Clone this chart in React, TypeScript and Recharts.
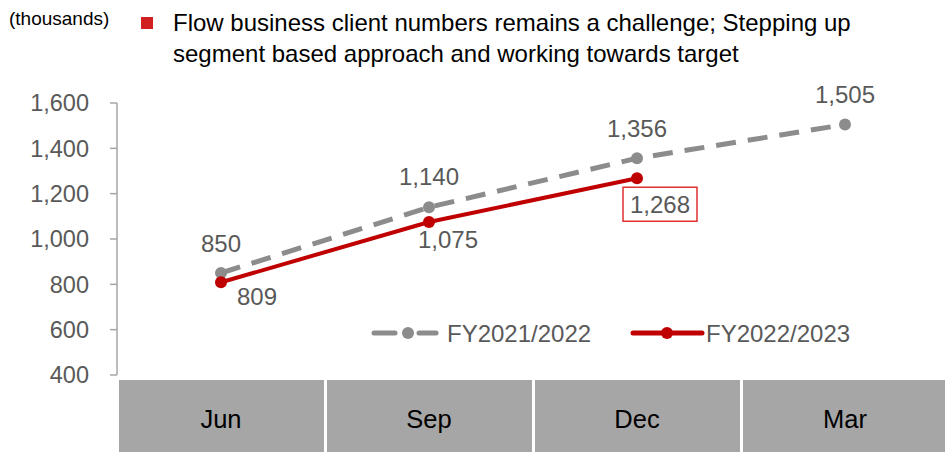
import React from "react";
import { LineChart, Line, XAxis, YAxis, LabelList } from "recharts";

const categories = ["Jun", "Sep", "Dec", "Mar"];
const fy2122 = [850, 1140, 1356, 1505];
const fy2223: (number | null)[] = [809, 1075, 1268, null];
const yTicks = [400, 600, 800, 1000, 1200, 1400, 1600];

const data = categories.map((c, i) => ({ name: c, a: fy2122[i], b: fy2223[i] }));

const GRAY = "#8C8C8C";
const RED = "#C00000";
const FONT = "'Liberation Sans', Arial, sans-serif";
const fmt = (v: number) => v.toLocaleString("en-US");

const labelOffsetsA = [
  [0, -30],
  [0, -31],
  [0, -30],
  [0, -30],
];
const labelOffsetsB = [
  [36, 14],
  [19, 17],
  [23, 26],
];

const XTick = (props: any) => {
  const { x, y, payload } = props;
  return (
    <g>
      <rect x={x - 102} y={y + 5} width={205} height={80} fill="#A6A6A6" />
      <text x={x} y={y + 44} textAnchor="middle" dominantBaseline="central" fontSize={25.5} fill="#000" fontFamily={FONT}>
        {payload.value}
      </text>
    </g>
  );
};

const LabelA = (props: any) => {
  const { x, y, value, index } = props;
  if (value == null) return null;
  const [dx, dy] = labelOffsetsA[index];
  return (
    <text x={x + dx} y={y + dy} textAnchor="middle" dominantBaseline="central" fontSize={24} fill="#595959" fontFamily={FONT}>
      {fmt(value)}
    </text>
  );
};

const LabelB = (props: any) => {
  const { x, y, value, index } = props;
  if (value == null) return null;
  const [dx, dy] = labelOffsetsB[index];
  const boxed = index === 2;
  return (
    <g>
      {boxed && (
        <rect x={x + dx - 37} y={y + dy - 17} width={74} height={34} fill="#fff" stroke="#E03030" strokeWidth={1.5} />
      )}
      <text x={x + dx} y={y + dy} textAnchor="middle" dominantBaseline="central" fontSize={24} fill="#595959" fontFamily={FONT}>
        {fmt(value)}
      </text>
    </g>
  );
};

const LegendBox = () => (
  <svg width={520} height={30} style={{ position: "absolute", left: 360, top: 318, overflow: "visible" }}>
    <line x1={14} y1={15} x2={35} y2={15} stroke={GRAY} strokeWidth={5} strokeLinecap="round" />
    <circle cx={48} cy={15} r={6} fill={GRAY} />
    <line x1={59} y1={15} x2={76} y2={15} stroke={GRAY} strokeWidth={5} strokeLinecap="round" />
    <text x={87} y={15} dominantBaseline="central" fontSize={24} fill="#595959" fontFamily={FONT}>
      FY2021/2022
    </text>
    <line x1={273} y1={15} x2={342} y2={15} stroke={RED} strokeWidth={5} strokeLinecap="round" />
    <circle cx={307} cy={15} r={6} fill={RED} />
    <text x={346} y={15} dominantBaseline="central" fontSize={24} fill="#595959" fontFamily={FONT}>
      FY2022/2023
    </text>
  </svg>
);

export default function App() {
  return (
    <div style={{ position: "absolute", left: 0, top: 0, width: 945, height: 452, background: "#fff", overflow: "hidden", fontFamily: FONT }}>
      <div style={{ position: "absolute", left: 9, top: 8, fontSize: 19, color: "#000" }}>(thousands)</div>
      <div style={{ position: "absolute", left: 141, top: 17, width: 12, height: 12, background: "#D02020" }} />
      <div style={{ position: "absolute", left: 173, top: 7, fontSize: 24, lineHeight: "31px", color: "#000" }}>
        Flow business client numbers remains a challenge; Stepping up
        <br />
        segment based approach and working towards target
      </div>
      <LineChart width={945} height={452} data={data} margin={{ top: 103, right: 0, left: 0, bottom: 0 }} style={{ position: "absolute", left: 0, top: 0 }}>
        <XAxis
          dataKey="name"
          height={77}
          axisLine={false}
          tickLine={false}
          tickSize={0}
          tickMargin={0}
          padding={{ left: 104, right: 100 }}
          tick={<XTick />}
          interval={0}
        />
        <YAxis
          width={117}
          domain={[400, 1600]}
          ticks={yTicks}
          tickFormatter={fmt}
          axisLine={{ stroke: "#A6A6A6", strokeWidth: 1.5 }}
          tickLine={{ stroke: "#A6A6A6", strokeWidth: 1.5 }}
          tickSize={7}
          tickMargin={21}
          tick={{ fontSize: 23.5, fill: "#595959", fontFamily: FONT }}
          interval={0}
        />
        <Line
          dataKey="a"
          stroke={GRAY}
          strokeWidth={5}
          strokeDasharray="20 12"
          dot={{ r: 6, fill: GRAY, stroke: GRAY, strokeWidth: 0 }}
          isAnimationActive={false}
        >
          <LabelList dataKey="a" content={<LabelA />} />
        </Line>
        <Line
          dataKey="b"
          stroke={RED}
          strokeWidth={4}
          dot={{ r: 6, fill: RED, stroke: RED, strokeWidth: 0 }}
          isAnimationActive={false}
          connectNulls={false}
        >
          <LabelList dataKey="b" content={<LabelB />} />
        </Line>
      </LineChart>
      <LegendBox />
    </div>
  );
}
